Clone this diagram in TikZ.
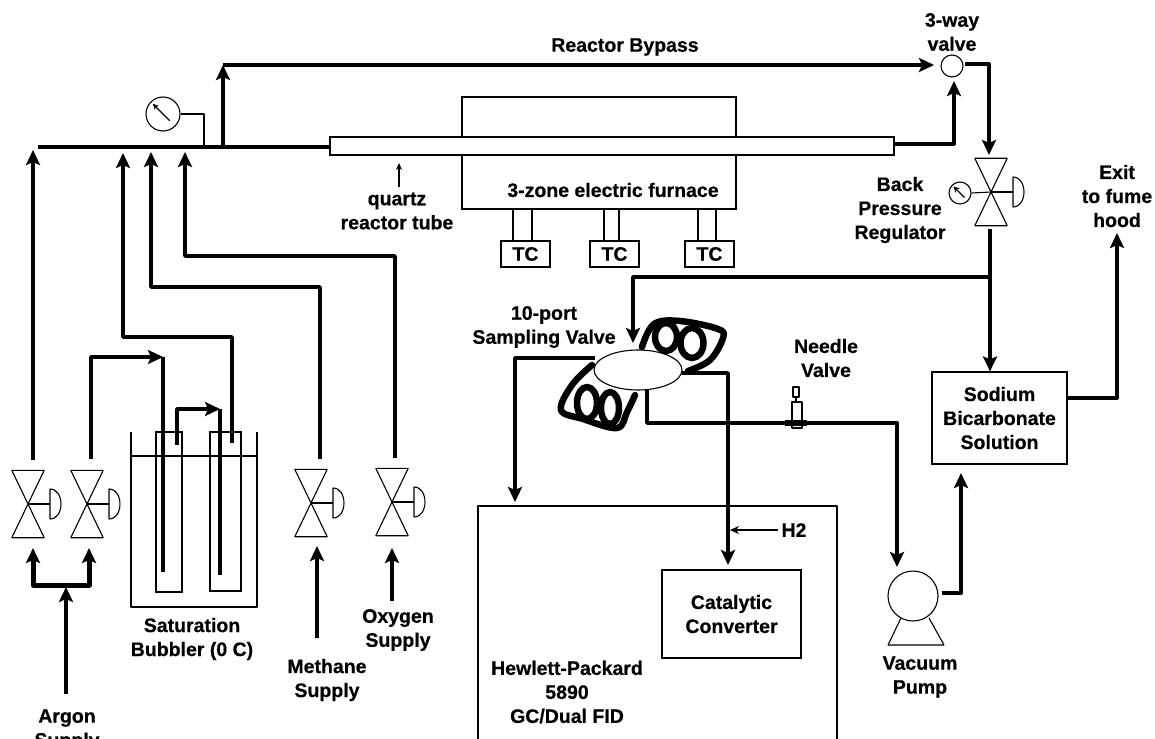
\documentclass[tikz,border=0pt]{standalone}
\usepackage{fontspec}
\setmainfont{Liberation Sans}[BoldFeatures={FakeBold=0.5}]
\usetikzlibrary{arrows.meta,calc,shapes.geometric}
\tikzset{
  pipe/.style={line width=3.8pt, line join=round, -{Stealth[length=15pt,width=14pt,inset=3pt]}},
  plainpipe/.style={line width=3.8pt, line join=round},
  thinline/.style={line width=1.1pt, line join=round},
  tag/.style={font=\bfseries\fontsize{19.5}{24}\selectfont, align=center, inner sep=0pt},
  box/.style={draw, line width=1.1pt, inner sep=0pt, align=center, font=\bfseries\fontsize{19.5}{24}\selectfont},
  coil/.style={line width=6.5pt, line join=round, line cap=round}
}
\newcommand{\valvepic}[3]{%
  \node (#1) [minimum width=32pt, minimum height=67pt, inner sep=0pt] at (#2,#3) {};
  \draw[thinline] (#1.north west) -- (#1.south east) -- (#1.south west) -- (#1.north east) -- cycle;
  \coordinate (#1h) at ($(#1.center)+(22,0)$);
  \coordinate (#1a) at ($(#1h)+(0,-15)$);
  \coordinate (#1b) at ($(#1h)+(0,15)$);
  \draw[thinline] (#1.center) -- (#1h);
  \draw[thinline] (#1a) to[out=0, in=0, looseness=1.25] (#1b) -- cycle;
}
\newcommand{\gaugepic}[4]{%
  \node (#1) [draw, circle, thinline, minimum size=#4pt, inner sep=0pt] at (#2,#3) {};
  \draw[thinline, -{Stealth[length=6pt,width=6pt]}] ($(#1.center)+(0.2*#4,0.2*#4)$) -- ($(#1.center)+(-0.3*#4,-0.3*#4)$);
}
\begin{document}
\begin{tikzpicture}[x=1pt, y=-1pt]
  \useasboundingbox (0,0) rectangle (1155,738);
  % furnace and reactor tube
  \node (furnace) [box, minimum width=274pt, minimum height=112pt] at (599,153) {};
  \node (tube) [box, fill=white, minimum width=564pt, minimum height=18pt] at (612,146) {};
  \node (furnacetag) [tag] at (613,190) {3-zone electric furnace};
  \node (tc1) [box, minimum width=49pt, minimum height=26pt] at (525.5,254) {TC};
  \node (tc2) [box, minimum width=49pt, minimum height=26pt, right of=tc1, node distance=89pt] {TC};
  \node (tc3) [box, minimum width=49pt, minimum height=26pt, right of=tc2, node distance=95pt] {TC};
  \foreach \a in {513,532,604,619,698,716}
    \draw[thinline] (\a,209) -- (\a,241);
  \node (quartz) [tag] at (397,211) {quartz\\reactor tube};
  \coordinate (quartzup) at (399,163);
  \draw[thinline, -{Stealth[length=7pt,width=6pt]}] (399,187) -- (quartzup);

  % feed line and gauge
  \coordinate (linestart) at (38,147);
  \coordinate (tee) at (223,147);
  \coordinate (bypassup) at (223,65);
  \draw[plainpipe] (linestart) -- (tube.west |- linestart);
  \gaugepic{gauge1}{163}{114}{34}
  \draw[thinline] (gauge1.east) -| (204,147);

  % bypass and 3-way valve
  \node (way3) [draw, circle, thinline, minimum size=22pt, inner sep=0pt] at (952,66) {};
  \node (way3tag) [tag] at (952,32) {3-way\\valve};
  \node (bypasstag) [tag] at (625,47) {Reactor Bypass};
  \coordinate (bypassend) at (934,65);
  \draw[pipe] (tee) -- (bypassup);
  \draw[pipe] (bypassup) -- (bypassend);
  \coordinate (tubeout) at (954,144);
  \coordinate (way3in) at (954,81);
  \draw[pipe] (tube.east |- tubeout) -- (tubeout) -- (way3in);

  % back pressure regulator
  \valvepic{bpr}{991}{192}
  \gaugepic{gauge2}{960}{193}{22}
  \draw[thinline] (gauge2.east) -- (bpr.center);
  \node (bprtag) [tag] at (900,210) {Back\\Pressure\\Regulator};
  \coordinate (way3out) at (965,64);
  \coordinate (bprin) at (989,155);
  \draw[pipe] (way3out) -| (bprin);
  \coordinate (bprout) at (990,229);
  \coordinate (split) at (990,277);
  \draw[plainpipe] (bprout) -- (split);

  % sodium bicarbonate and exit
  \node (sodium) [box, minimum width=135pt, minimum height=92pt] at (999.5,418) {Sodium\\Bicarbonate\\Solution};
  \draw[pipe] (split) -- (split |- sodium.north);
  \node (exittag) [tag] at (1117,196) {Exit\\to fume\\hood};
  \coordinate (exitup) at (1117,233);
  \coordinate (sodiumout) at (1067,398);
  \draw[pipe] (sodiumout) -| (exitup);

  % sampling valve and coils
  \node (samplertag) [tag] at (544,327) {10-port\\Sampling Valve};
  \coordinate (samplerin) at (633,343);
  \draw[pipe] (split) -| (samplerin);
  \draw[coil] plot[smooth, tension=0.6] coordinates {(642,347) (654,324) (680,321) (718,329) (723,338) (710,360) (688,371)};
  \draw[coil] (666,337) ellipse (11 and 14);
  \draw[coil] (692,343) ellipse (11.5 and 15);
  \draw[coil] plot[smooth, tension=0.6] coordinates {(592,365) (572,385) (561,410) (583,419) (617,428) (627,412) (635,395)};
  \draw[coil] (587,403) ellipse (10 and 16);
  \draw[coil] (610,408) ellipse (9 and 16);
  \node (sampler) [draw, ellipse, thinline, fill=white, minimum width=88pt, minimum height=40pt, inner sep=0pt] at (638,370) {};

  % gas chromatograph
  \coordinate (gcbl) at (478,745);
  \coordinate (gctr) at (837,506);
  \coordinate (gcbr) at (837,745);
  \draw[thinline] (gcbl) |- (gctr) -- (gcbr);
  \node (gctag) [tag] at (567,692) {Hewlett-Packard\\5890\\GC/Dual FID};
  \node (catalytic) [box, minimum width=139pt, minimum height=88pt] at (731.5,614) {Catalytic\\Converter};
  \node (h2tag) [tag] at (794,530) {H2};
  \coordinate (samplerleft) at (595,358);
  \coordinate (gcin) at (515,502);
  \draw[pipe] (samplerleft) -| (gcin);
  \coordinate (samplerright) at (682,373);
  \coordinate (catin) at (728,565);
  \draw[pipe] (samplerright) -| (catin);
  \draw[thinline, -{Stealth[length=9pt,width=8pt]}] (h2tag.west) ++(-3,0) -- (730,530);

  % needle valve and vacuum pump
  \node (needletag) [tag] at (826,358) {Needle\\Valve};
  \node (needlecap) [draw, thinline, fill=white, minimum width=6pt, minimum height=10pt, inner sep=0pt] at (796,392) {};
  \node (needle) [draw, thinline, fill=white, minimum width=10pt, minimum height=26pt, inner sep=0pt] at (797,415) {};
  \draw[line width=2pt] (needlecap.south) -- (needle.north -| needlecap.south);
  \node (pump) [draw, circle, thinline, minimum size=50pt, inner sep=0pt] at (913,596) {};
  \node (pumptag) [tag] at (920,677) {Vacuum\\Pump};
  \draw[thinline] (901,618) -- (888,645) -- (944,645) -- (929,618);
  \coordinate (samplerbot) at (647,390);
  \coordinate (needlerun) at (647,423);
  \coordinate (pumpin) at (897,567);
  \draw[pipe] (samplerbot) -- (needlerun) -| (pumpin);
  \draw[line width=5.5pt] (785,423) -- (807,423);
  \coordinate (pumpout) at (942,593);
  \coordinate (sodiumin) at (961,473);
  \draw[pipe] (pumpout) -| (sodiumin);

  % argon side
  \valvepic{v1}{28}{504}
  \valvepic{v2}{87}{504}
  \node (argontag) [tag] at (67,730) {Argon\\Supply};
  \coordinate (argonstart) at (66,694);
  \coordinate (argontip) at (66,587);
  \draw[pipe] (argonstart) -- (argontip);
  \coordinate (leftin) at (33,548);
  \coordinate (rightin) at (89,548);
  \coordinate (bar) at (33,585);
  \draw[pipe, line width=5pt] (66,585) -- (bar) -- (leftin);
  \draw[pipe, line width=5pt] (66,585) -| (rightin);
  \coordinate (v1out) at (33,460);
  \coordinate (v1tip) at (33,150);
  \draw[pipe] (v1out) -- (v1tip);

  % saturation bubbler
  \coordinate (bathtl) at (131,432);
  \coordinate (bathtr) at (257,432);
  \coordinate (bathbot) at (131,607);
  \draw[thinline] (bathtl) -- (bathbot) -| (bathtr);
  \draw[thinline] (131,456) -- (257,456);
  \node (tube1) [box, minimum width=26pt, minimum height=160pt] at (169,512) {};
  \node (tube2) [box, minimum width=31pt, minimum height=159pt] at (225.5,511.5) {};
  \node (bubblertag) [tag] at (192,639) {Saturation\\Bubbler (0 C)};
  \coordinate (v2out) at (91,459);
  \coordinate (tube1in) at (163,357);
  \draw[pipe] (v2out) |- (tube1in);
  \coordinate (tube1dip) at (163,572);
  \draw[plainpipe] (tube1in) -- (tube1dip);
  \coordinate (tube1out) at (177,445);
  \coordinate (tube2in) at (220,409);
  \draw[pipe] (tube1out) |- (tube2in);
  \coordinate (tube2dip) at (220,575);
  \draw[plainpipe] (tube2in) -- (tube2dip);
  \coordinate (tube2out) at (232,443);
  \coordinate (tube2bend) at (232,337);
  \coordinate (tube2tip) at (123,153);
  \draw[pipe] (tube2out) -- (tube2bend) -| (tube2tip);

  % methane and oxygen
  \valvepic{v3}{311}{503}
  \valvepic{v4}{392}{502}
  \node (methanetag) [tag] at (327,680) {Methane\\Supply};
  \node (oxygentag) [tag] at (398,630) {Oxygen\\Supply};
  \draw[pipe] (317,638) -- (317,546);
  \draw[pipe] (392,601) -- (392,548);
  \coordinate (v3out) at (320,459);
  \coordinate (v3bend) at (320,287);
  \coordinate (v3tip) at (151,152);
  \draw[pipe] (v3out) -- (v3bend) -| (v3tip);
  \coordinate (v4out) at (395,458);
  \coordinate (v4bend) at (395,256);
  \coordinate (v4tip) at (185,152);
  \draw[pipe] (v4out) -- (v4bend) -| (v4tip);
\end{tikzpicture}
\end{document}
